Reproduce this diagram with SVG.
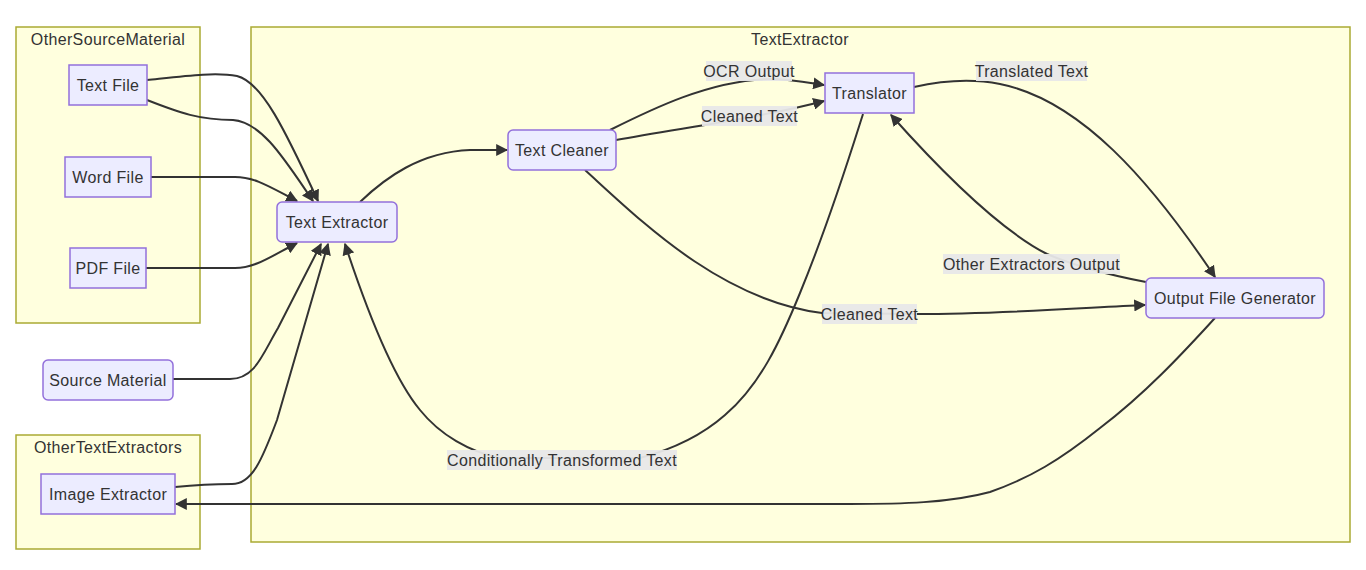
<svg xmlns="http://www.w3.org/2000/svg" width="1366" height="570" viewBox="0 0 1366 570">
<style>
.cluster{fill:#ffffde;stroke:#aaaa33;stroke-width:1.5}
.node{fill:#ececff;stroke:#9370db;stroke-width:1.5}
text{font-family:"Liberation Sans",Arial,sans-serif;font-size:16px;letter-spacing:0.35px;fill:#333;text-anchor:middle}
.edge{fill:none;stroke:#333;stroke-width:2;marker-end:url(#arrow)}
.lbl{fill:#e8e8e8;opacity:0.95}
</style>
<defs>
<marker id="arrow" viewBox="0 0 10 10" refX="9" refY="5" markerUnits="userSpaceOnUse" markerWidth="12" markerHeight="12" orient="auto">
<path d="M0,0 L10,5 L0,10 z" fill="#333"/>
</marker>
</defs>
<g id="clusters">
<rect class="cluster" x="16" y="27" width="184" height="296"/>
<text x="108" y="45">OtherSourceMaterial</text>
<rect class="cluster" x="251" y="27" width="1099" height="515"/>
<text x="800" y="45">TextExtractor</text>
<rect class="cluster" x="16" y="435" width="184" height="114"/>
<text x="108" y="453">OtherTextExtractors</text>
</g>
<g id="connectors">
<path class="edge" d="M147,80 C185,76 215,72 237,76 C262,82 285,130 318,201"/>
<path class="edge" d="M147,100 C180,113 200,120 233,120 C262,122 285,160 313,201"/>
<path class="edge" d="M151,177 L235,177 C255,177 270,187 297,201"/>
<path class="edge" d="M146,268 L235,268 C255,268 270,257 297,243"/>
<path class="edge" d="M173,379 L230,379 C255,379 262,355 278,328 L321,244"/>
<path class="edge" d="M175,487 C195,485 215,484 232,484 C252,484 262,460 277,420 L328,244"/>
<path class="edge" d="M360,202 C385,178 420,152 470,150 L507,150"/>
<path class="edge" d="M610,130 C650,110 710,80 770,79 C790,79 805,82 824,85"/>
<path class="edge" d="M616,140 C680,128 760,118 824,101"/>
<path class="edge" d="M914,87 C945,80 975,79 1000,84 C1080,100 1150,180 1215,277"/>
<path class="edge" d="M1146,282 C1120,277 1080,268 1047,254 C1000,230 940,170 891,115"/>
<path class="edge" d="M585,170 C640,220 720,300 822,313 L917,314 C1000,314 1080,308 1145,305"/>
<path class="edge" d="M863,114 C850,155 830,220 800,293 C780,342 760,385 725,415 C700,437 670,450 640,458 L500,458 C470,452 440,435 420,410 C395,380 370,320 345,244"/>
<path class="edge" d="M1215,318 C1190,345 1150,390 1100,428 C1060,460 1030,478 990,492 C950,503 900,504 850,504 L176,504"/>
</g>
<g id="edge-labels">
<rect class="lbl" x="706" y="61" width="86" height="20"/><text x="749" y="77">OCR Output</text>
<rect class="lbl" x="702" y="106" width="95" height="20"/><text x="749.5" y="122">Cleaned Text</text>
<rect class="lbl" x="976" y="61" width="111" height="20"/><text x="1031.5" y="77">Translated Text</text>
<rect class="lbl" x="943" y="254" width="177" height="20"/><text x="1031.5" y="270">Other Extractors Output</text>
<rect class="lbl" x="822" y="304" width="95" height="20"/><text x="869.5" y="320">Cleaned Text</text>
<rect class="lbl" x="447" y="450" width="230" height="20"/><text x="562" y="466">Conditionally Transformed Text</text>
</g>
<g id="TextFile"><rect class="node" x="69" y="65" width="78" height="40"/><text x="108" y="91">Text File</text></g>
<g id="WordFile"><rect class="node" x="65" y="157" width="86" height="40"/><text x="108" y="183">Word File</text></g>
<g id="PDFFile"><rect class="node" x="70" y="248" width="76" height="40"/><text x="108" y="274">PDF File</text></g>
<g id="TextExtractorNode"><rect class="node" x="277" y="202" width="120" height="40" rx="5"/><text x="337" y="228">Text Extractor</text></g>
<g id="SourceMaterial"><rect class="node" x="43" y="360" width="130" height="40" rx="5"/><text x="108" y="386">Source Material</text></g>
<g id="ImageExtractor"><rect class="node" x="41" y="474" width="134" height="40"/><text x="108" y="500">Image Extractor</text></g>
<g id="TextCleaner"><rect class="node" x="508" y="130" width="108" height="40" rx="5"/><text x="562" y="156">Text Cleaner</text></g>
<g id="Translator"><rect class="node" x="825" y="73" width="89" height="40"/><text x="869.5" y="99">Translator</text></g>
<g id="OutputFileGenerator"><rect class="node" x="1146" y="278" width="178" height="40" rx="5"/><text x="1235" y="304">Output File Generator</text></g>
</svg>
